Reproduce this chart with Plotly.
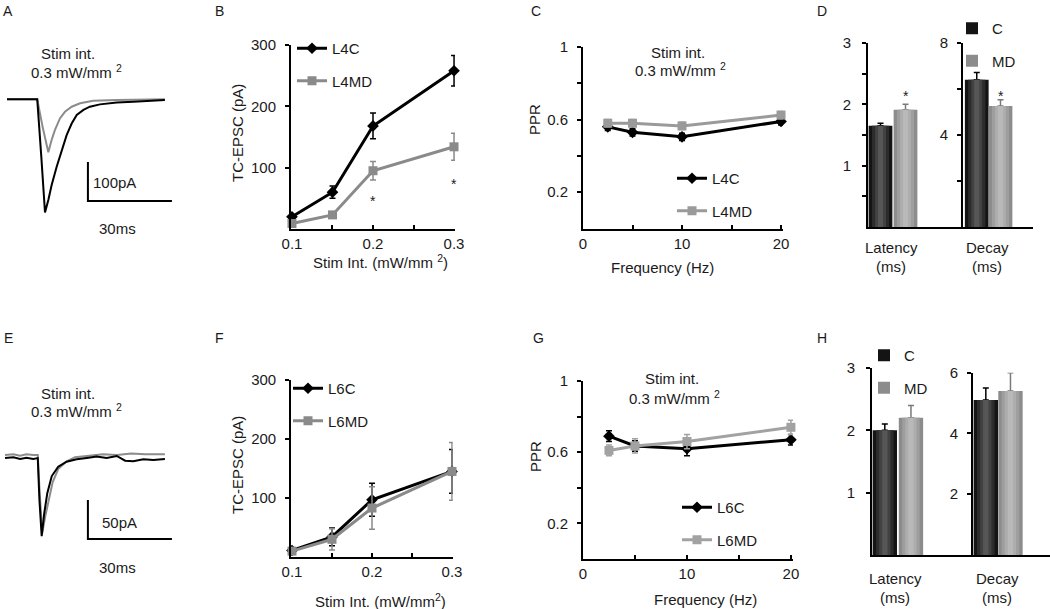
import plotly.graph_objects as go

W, H = 1050, 609
FONT = "Liberation Sans, Arial, Helvetica, sans-serif"
TXT = "#1a1a1a"
FS = 15

# ---------------- data ----------------
# Panel A: example TC-EPSC traces (time ms, current pA)
a_t_c = [0, 5, 10, 10.8, 12.25, 13.57, 14.76, 15.95, 17.74, 19.52, 21.3, 23.1, 24.9, 27.3, 29.6, 33.2, 39.2, 45.1, 56.4]
a_i_c = [0, 0, 0, 0, -147, -290, -258, -220, -173, -130, -92, -62, -40, -27, -19, -13, -8, -6, -2]
a_t_md = [0, 5, 10, 10.8, 12.7, 14.76, 15.95, 17.1, 18.9, 20.7, 23.1, 26.1, 30.8, 39.2, 56.4]
a_i_md = [0, 0, 0, 0, -70, -136, -104, -79, -49, -32, -19, -10, -4, -2, 0]

# Panel E: example traces
e_t_c = [0, 3, 5.4, 7.7, 10.1, 11.7, 12.3, 13.1, 14.0, 15.1, 16.7, 19.0, 22.0, 25.6, 29.2, 32.7, 36.3, 39.9, 42.9, 45.8, 49.4, 53.0, 57.1]
e_i_c = [-4, -3, -5, -3.5, -5, -4, -58, -104, -75, -49, -27, -15, -8.6, -5.6, -3.8, -2.1, -4, -1.3, -7.3, -8, -5.6, -6.4, -5.2]
e_t_md = [0, 3, 5.4, 7.7, 10.1, 11.7, 12.4, 13.3, 14.3, 15.5, 17, 19, 22, 25, 30, 35, 40, 45, 50, 57.1]
e_i_md = [0, 1, -1, 1, 0, 0, -50, -100, -80, -58, -35, -18, -8, -3, -1, 1, 0, 2, 1, 1]

scale_ms = 30
scale_a_pa = 100
scale_e_pa = 50

# Panel B / F: input-output
stim_int = [0.1, 0.15, 0.2, 0.3]
b_l4c = [20, 60, 168, 258]
b_l4c_err = [3, 10, 21, 25]
b_l4md = [9, 23, 95, 134]
b_l4md_err = [3, 4, 15, 22]
b_star_x = [0.15, 0.2, 0.3]
b_star_y = [-3, 46, 74]

f_l6c = [11, 34, 97, 145]
f_l6c_err = [3, 15, 28, 37]
f_l6md = [10, 30, 83, 145]
f_l6md_err = [3, 18, 36, 49]

# Panel C / G: paired-pulse ratio
freq = [2.5, 5, 10, 20]
c_l4c = [0.56, 0.53, 0.505, 0.59]
c_l4c_err = [0.02, 0.02, 0.02, 0.02]
c_l4md = [0.58, 0.58, 0.565, 0.625]
c_l4md_err = [0.02, 0.02, 0.02, 0.02]

g_l6c = [0.69, 0.635, 0.62, 0.67]
g_l6c_err = [0.03, 0.03, 0.04, 0.03]
g_l6md = [0.61, 0.635, 0.66, 0.74]
g_l6md_err = [0.03, 0.04, 0.04, 0.04]

# Panel D / H: latency and decay (C vs MD)
d_lat = [1.65, 1.91]
d_lat_err = [0.04, 0.09]
d_dec = [6.4, 5.26]
d_dec_err = [0.32, 0.27]
d_star_lat = 2.14
d_star_dec = 5.7

h_lat = [2.0, 2.2]
h_lat_err = [0.1, 0.2]
h_dec = [5.1, 5.4]
h_dec_err = [0.4, 0.6]

# ---------------- helpers ----------------
def dx(a, b):
    return [a / W, b / W]


def dy(top, bot):
    return [1 - bot / H, 1 - top / H]


fig = go.Figure()

BLACK = "#000000"
GRAY_B = "#8a8a8a"
GRAY_C = "#9a9a9a"


def line_tr(x, y, err, name, color, symbol, xa, ya, legend, size=9):
    return go.Scatter(
        x=x, y=y, name=name, mode="lines+markers",
        line=dict(color=color, width=3),
        marker=dict(symbol=symbol, size=size, color=color),
        error_y=dict(type="data", array=err, color=color, thickness=1.5, width=3),
        xaxis=xa, yaxis=ya, legend=legend, legendgroup=name, cliponaxis=False,
    )


def grad_bars(xs, ys, errs, xa, ya, legend, names):
    layers_c = ["#141414", "#2c2c2c", "#424242", "#565656"]
    layers_md = ["#8c8c8c", "#9e9e9e", "#adadad", "#b9b9b9"]
    fracs = [1.0, 0.72, 0.46, 0.22]
    for i, (x, y, e, nm) in enumerate(zip(xs, ys, errs, names)):
        cols = layers_c if i == 0 else layers_md
        ecol = "#000000" if i == 0 else "#7a7a7a"
        for k, (f, col) in enumerate(zip(fracs, cols)):
            fig.add_trace(go.Bar(
                x=[x], y=[y], width=[0.95 * f], name=nm,
                marker=dict(color=col, line=dict(width=0)),
                error_y=dict(type="data", symmetric=False, array=[e], arrayminus=[0],
                             color=ecol, thickness=1.5, width=3, visible=(k == 0)),
                xaxis=xa, yaxis=ya, legend=legend, legendgroup=nm,
                showlegend=(k == 0 and legend is not None),
            ))


# ---------------- Panel A ----------------
fig.add_trace(go.Scatter(x=a_t_md, y=a_i_md, mode="lines", line=dict(color="#8c8c8c", width=2),
                         showlegend=False, xaxis="x", yaxis="y"))
fig.add_trace(go.Scatter(x=a_t_c, y=a_i_c, mode="lines", line=dict(color="#000", width=2),
                         showlegend=False, xaxis="x", yaxis="y"))
sa_t0, sa_i0 = 28.9, -160.8
fig.add_trace(go.Scatter(x=[sa_t0, sa_t0, sa_t0 + scale_ms],
                         y=[sa_i0, sa_i0 - scale_a_pa, sa_i0 - scale_a_pa],
                         mode="lines", line=dict(color="#000", width=2), showlegend=False,
                         xaxis="x", yaxis="y"))

# ---------------- Panel E ----------------
fig.add_trace(go.Scatter(x=e_t_md, y=e_i_md, mode="lines", line=dict(color="#8c8c8c", width=2),
                         showlegend=False, xaxis="x6", yaxis="y6"))
fig.add_trace(go.Scatter(x=e_t_c, y=e_i_c, mode="lines", line=dict(color="#000", width=2),
                         showlegend=False, xaxis="x6", yaxis="y6"))
se_t0, se_i0 = 29.6, -57.7
fig.add_trace(go.Scatter(x=[se_t0, se_t0, se_t0 + scale_ms],
                         y=[se_i0, se_i0 - scale_e_pa, se_i0 - scale_e_pa],
                         mode="lines", line=dict(color="#000", width=2), showlegend=False,
                         xaxis="x6", yaxis="y6"))

# ---------------- Panel B ----------------
fig.add_trace(line_tr(stim_int, b_l4c, b_l4c_err, "L4C", BLACK, "diamond", "x2", "y2", "legend"))
fig.add_trace(line_tr(stim_int, b_l4md, b_l4md_err, "L4MD", GRAY_B, "square", "x2", "y2", "legend"))

# ---------------- Panel C ----------------
fig.add_trace(line_tr(freq, c_l4c, c_l4c_err, "L4C", BLACK, "diamond", "x3", "y3", "legend2"))
fig.add_trace(line_tr(freq, c_l4md, c_l4md_err, "L4MD", GRAY_C, "square", "x3", "y3", "legend2"))

# ---------------- Panel F ----------------
fig.add_trace(line_tr(stim_int, f_l6c, f_l6c_err, "L6C", BLACK, "diamond", "x7", "y7", "legend4"))
fig.add_trace(line_tr(stim_int, f_l6md, f_l6md_err, "L6MD", GRAY_B, "square", "x7", "y7", "legend4"))

# ---------------- Panel G ----------------
fig.add_trace(line_tr(freq, g_l6c, g_l6c_err, "L6C", BLACK, "diamond", "x8", "y8", "legend5"))
fig.add_trace(line_tr(freq, g_l6md, g_l6md_err, "L6MD", "#a2a2a2", "square", "x8", "y8", "legend5"))

# ---------------- Panel D ----------------
grad_bars([0.5, 1.5], d_lat, d_lat_err, "x4", "y4", "legend3", ["C", "MD"])
grad_bars([0.55, 1.5], d_dec, d_dec_err, "x5", "y5", None, ["C ", "MD "])

# ---------------- Panel H ----------------
grad_bars([0.5, 1.52], h_lat, h_lat_err, "x9", "y9", "legend6", ["C", "MD"])
grad_bars([0.5, 1.46], h_dec, h_dec_err, "x10", "y10", None, ["C ", "MD "])

# ---------------- axes ----------------
ax_common = dict(showline=True, linecolor="#000", linewidth=2, showgrid=False, zeroline=False,
                 ticks="outside", ticklen=4, tickwidth=1.5, tickcolor="#000", automargin=False,
                 tickfont=dict(size=FS, color=TXT, family=FONT), fixedrange=True)


def ax(minor_vals=None, tickdir="outside", **kw):
    d = dict(ax_common)
    d["ticks"] = tickdir
    d.update(kw)
    if minor_vals is not None:
        d["minor"] = dict(tickvals=minor_vals, ticks=tickdir, ticklen=4, tickwidth=1.5,
                          tickcolor="#000", showgrid=False)
    return d


def bar_x(domain, rng, anchor):
    return ax(domain=domain, range=rng, anchor=anchor, tickdir="", showticklabels=False)


hidden = dict(visible=False, fixedrange=True, automargin=False)

layout_axes = dict(
    # A
    xaxis=dict(domain=dx(3, 182), range=[-1.43, 62.5], **hidden),
    yaxis=dict(domain=dy(85, 240), range=[-360.8, 36.7], **hidden),
    # E
    xaxis6=dict(domain=dx(3, 182), range=[-0.714, 63.2], anchor="y6", **hidden),
    yaxis6=dict(domain=dy(440, 560), range=[-134.6, 19.2], anchor="x6", **hidden),
    # B
    xaxis2=ax(domain=dx(291, 455), range=[0.0988, 0.3012], anchor="y2",
              tickvals=[0.1, 0.2, 0.3], minor_vals=[0.15, 0.25], tickdir="inside"),
    yaxis2=ax(domain=dy(45, 229), range=[0, 300], anchor="x2", tickvals=[100, 200, 300],
              ticklabelstandoff=6),
    # C
    xaxis3=ax(domain=dx(583, 783), range=[0, 20.2], anchor="y3",
              tickvals=[0, 10, 20], minor_vals=[5, 15], tickdir="inside"),
    yaxis3=ax(domain=dy(47, 228.5), range=[0, 1], anchor="x3",
              tickvals=[0.2, 0.6, 1], ticktext=["0.2", "0.6", "1"], minor_vals=[0.4, 0.8],
              ticklabelstandoff=6),
    # D latency
    xaxis4=bar_x(dx(868, 963), [0, 3.8], "y4"),
    yaxis4=ax(domain=dy(43, 227), range=[0, 3], anchor="x4",
              tickvals=[1, 2, 3], minor_vals=[0.5, 1.5, 2.5], ticklabelstandoff=8),
    # D decay
    xaxis5=bar_x(dx(963, 1033), [0, 2.8], "y5"),
    yaxis5=ax(domain=dy(43, 227), range=[0, 8], anchor="x5",
              tickvals=[4, 8], minor_vals=[2, 6], ticklabelstandoff=6),
    # F
    xaxis7=ax(domain=dx(291.2, 452.8), range=[0.099, 0.301], anchor="y7",
              tickvals=[0.1, 0.2, 0.3], minor_vals=[0.15, 0.25], tickdir="inside"),
    yaxis7=ax(domain=dy(380, 557), range=[0, 300], anchor="x7", tickvals=[100, 200, 300],
              ticklabelstandoff=6),
    # G
    xaxis8=ax(domain=dx(583, 793), range=[0, 20.2], anchor="y8",
              tickvals=[0, 10, 20], minor_vals=[5, 15], tickdir="inside"),
    yaxis8=ax(domain=dy(381, 559), range=[0, 1], anchor="x8",
              tickvals=[0.2, 0.6, 1], ticktext=["0.2", "0.6", "1"], minor_vals=[0.4, 0.8],
              ticklabelstandoff=6),
    # H latency
    xaxis9=bar_x(dx(872, 973), [0, 3.94], "y9"),
    yaxis9=ax(domain=dy(368, 555), range=[0, 3], anchor="x9", tickvals=[1, 2, 3],
              ticklabelstandoff=8),
    # H decay
    xaxis10=bar_x(dx(973, 1050), [0, 3.0], "y10"),
    yaxis10=ax(domain=dy(372.7, 555), range=[0, 6], anchor="x10", tickvals=[2, 4, 6],
               ticklabelstandoff=6),
)


def leg(xpx, ytop):
    return dict(x=xpx / W, y=1 - ytop / H, xanchor="left", yanchor="top",
                bgcolor="rgba(0,0,0,0)", font=dict(size=FS, color=TXT, family=FONT),
                traceorder="grouped", tracegroupgap=10, itemwidth=30)


# ---------------- annotations ----------------
anns = []


def ann(text, xpx, ypx, size=FS, angle=0):
    anns.append(dict(text=text, x=xpx / W, y=1 - ypx / H, xref="paper", yref="paper",
                     xanchor="center", yanchor="middle", showarrow=False, textangle=angle,
                     font=dict(size=size, color=TXT, family=FONT)))


def star(x, y, xa, ya):
    anns.append(dict(text="*", x=x, y=y, xref=xa, yref=ya, xanchor="center", yanchor="middle",
                     showarrow=False, font=dict(size=14, color=TXT, family=FONT)))


# panel letters
for letter, xp, yp in [("A", 8, 11), ("B", 219, 11), ("C", 536, 11), ("D", 822, 11),
                       ("E", 8, 338), ("F", 219, 338), ("G", 538, 338), ("H", 822, 338)]:
    ann(letter, xp, yp, size=14)

# A / E annotations
ann("Stim int.", 68, 53)
ann("0.3 mW/mm <sup>2</sup>", 76, 72)
ann("100pA", 114, 183)
ann("30ms", 117, 228)
ann("Stim int.", 68, 393)
ann("0.3 mW/mm <sup>2</sup>", 76, 410)
ann("50pA", 119, 522)
ann("30ms", 117, 567)

# B
ann("TC-EPSC (pA)", 237, 133, angle=-90)
ann("Stim Int. (mW/mm <sup>2</sup>)", 380, 261)
for sx, sy in zip(b_star_x, b_star_y):
    star(sx, sy, "x2", "y2")

# C
ann("PPR", 535, 120, angle=-90)
ann("Frequency (Hz)", 662, 267)
ann("Stim int.", 678, 52)
ann("0.3 mW/mm <sup>2</sup>", 680, 70)

# D
star(1.5, d_star_lat, "x4", "y4")
star(1.5, d_star_dec, "x5", "y5")
ann("Latency", 891, 247)
ann("(ms)", 891, 266)
ann("Decay", 987, 247)
ann("(ms)", 987, 266)

# F
ann("TC-EPSC (pA)", 237, 465, angle=-90)
ann("Stim Int. (mW/mm<sup>2</sup>)", 380, 600)

# G
ann("PPR", 535, 457, angle=-90)
ann("Frequency (Hz)", 705, 599)
ann("Stim int.", 672, 378)
ann("0.3 mW/mm <sup>2</sup>", 674, 397)

# H
ann("Latency", 895, 578)
ann("(ms)", 895, 597)
ann("Decay", 997, 578)
ann("(ms)", 997, 597)

fig.update_layout(
    width=W, height=H, margin=dict(l=0, r=0, t=0, b=0, pad=0, autoexpand=False),
    paper_bgcolor="white", plot_bgcolor="white",
    font=dict(family=FONT, size=FS, color=TXT),
    barmode="overlay",
    legend=leg(292, 32),
    legend2=leg(672, 162),
    legend3=leg(952, 12),
    legend4=leg(288, 372),
    legend5=leg(677, 491),
    legend6=leg(864, 339),
    annotations=anns,
)
fig.update_layout(**layout_axes)

fig.write_html(
    "out.html",
    config={"displayModeBar": False},
    post_script=(
        "var gd=document.getElementById('{plot_id}');"
        "var p=gd.parentElement;"
        "p.style.position='fixed';p.style.top='0';p.style.left='0';"
        "p.style.margin='0';p.style.padding='0';p.style.lineHeight='0';"
        "document.documentElement.style.margin='0';"
        "document.body.style.margin='0';"
        "document.body.style.padding='0';"
        "document.body.style.overflow='hidden';"
        "document.documentElement.style.overflow='hidden';"
    ),
)
